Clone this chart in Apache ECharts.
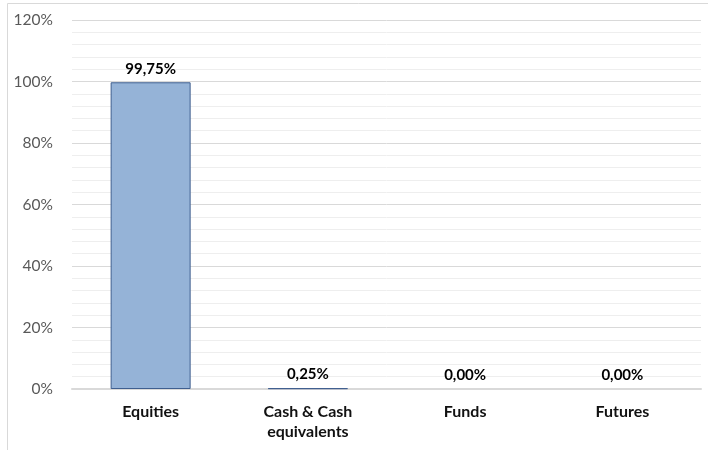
<!DOCTYPE html>
<html>
<head>
<meta charset="utf-8">
<script src="https://cdn.jsdelivr.net/npm/echarts@6/dist/echarts.min.js"></script>
<style>
  html, body { margin: 0; padding: 0; background: #fff; }
  #bar-chart { width: 708px; height: 450px; }
</style>
</head>
<body>
<div id="bar-chart"></div>
<script>
(function () {
    'use strict';

    var categories = ['Equities', 'Cash & Cash\nequivalents', 'Funds', 'Futures'];
    var weights = [99.75, 0.25, 0.00, 0.00];

    var myChart = echarts.init(document.getElementById('bar-chart'));

    // empty bars get no outline, as in the original
    var barData = weights.map(function (v) {
        return v === 0 ? { value: v, itemStyle: { borderWidth: 0 } } : v;
    });

    var option = {
        animation: false,
        graphic: [{
            type: 'rect',
            shape: { x: 7.5, y: 3.5, width: 720, height: 460 },
            style: { fill: 'none', stroke: '#d9d9d9', lineWidth: 1 }
        }],
        grid: {
            left: 72,
            right: 7,
            top: 20,
            bottom: 61
        },
        xAxis: {
            type: 'category',
            data: categories,
            axisTick: { show: false },
            axisLine: { lineStyle: { color: '#d9d9d9', width: 2 } },
            axisLabel: {
                margin: 13,
                color: '#111',
                fontWeight: 'bold',
                fontSize: 16,
                lineHeight: 20,
                fontFamily: 'Lato, "Open Sans", sans-serif'
            }
        },
        yAxis: {
            type: 'value',
            min: 0,
            max: 120,
            interval: 20,
            axisLine: { show: false },
            axisTick: { show: false },
            axisLabel: {
                margin: 19,
                color: '#595959',
                fontSize: 15.5,
                fontFamily: 'Lato, "Open Sans", sans-serif',
                formatter: function (v) { return v + '%'; }
            },
            splitLine: { lineStyle: { color: '#d9d9d9' } },
            minorTick: { show: false, splitNumber: 5 },
            minorSplitLine: { show: true, lineStyle: { color: '#eeeeee' } }
        },
        series: [{
            type: 'bar',
            data: barData,
            barWidth: 80,
            itemStyle: {
                color: '#95b3d7',
                borderColor: '#3f5f8f',
                borderWidth: 1
            },
            label: {
                show: true,
                position: 'top',
                distance: 6,
                color: '#000',
                fontWeight: 'bold',
                fontSize: 15,
                fontFamily: 'Lato, "Open Sans", sans-serif',
                formatter: function (p) { return p.value.toFixed(2).replace('.', ',') + '%'; }
            }
        }]
    };

    myChart.setOption(option);
})();
</script>
</body>
</html>
